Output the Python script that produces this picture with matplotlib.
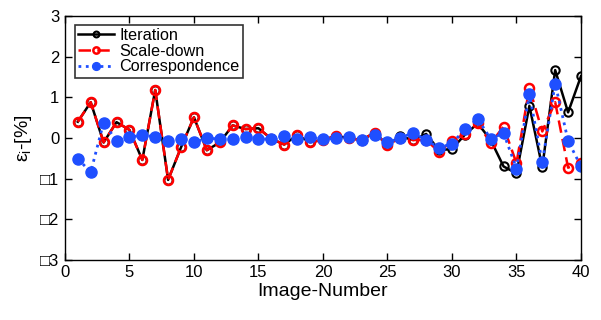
import numpy as np
import matplotlib
matplotlib.use('Agg')
import matplotlib.pyplot as plt

plt.rcParams['font.family'] = ['Liberation Sans', 'DejaVu Sans']
plt.rcParams['mathtext.fontset'] = 'custom'
plt.rcParams['mathtext.rm'] = 'Liberation Sans'
plt.rcParams['mathtext.it'] = 'Liberation Sans'

image_no = np.arange(1, 41)

iteration = [0.40, 0.88, -0.11, 0.39, 0.20, -0.54, 1.18, -1.03, -0.23, 0.51,
             -0.30, -0.11, 0.31, 0.22, 0.24, -0.02, -0.16, 0.07, -0.10, -0.05,
             0.05, 0.00, -0.05, 0.13, -0.17, 0.04, -0.05, 0.10, -0.30, -0.27,
             0.08, 0.36, -0.05, -0.70, -0.87, 0.79, -0.72, 1.67, 0.63, 1.52]
scale_down = [0.40, 0.88, -0.11, 0.39, 0.20, -0.54, 1.18, -1.03, -0.23, 0.51,
              -0.30, -0.11, 0.31, 0.22, 0.24, -0.02, -0.16, 0.07, -0.10, -0.05,
              0.05, -0.01, -0.05, 0.13, -0.17, 0.00, -0.05, -0.05, -0.34, -0.08,
              0.11, 0.36, -0.13, 0.28, -0.62, 1.24, 0.16, 0.88, -0.73, -0.61]
correspondence = [-0.51, -0.84, 0.38, -0.07, 0.02, 0.07, 0.03, -0.07, -0.02, -0.11,
                  -0.01, -0.02, -0.03, 0.02, -0.02, -0.03, 0.05, -0.03, 0.02, -0.03,
                  -0.01, 0.02, -0.05, 0.07, -0.11, 0.00, 0.13, -0.05, -0.24, -0.14,
                  0.22, 0.47, -0.02, 0.12, -0.75, 1.07, -0.60, 1.34, -0.07, -0.70]

names = ['Iteration', 'Scale-down', 'Correspondence']
yticks = [-3, -2, -1, 0, 1, 2, 3]
ytick_labels = ['\u25a13', '\u25a12', '\u25a11', '0', '1', '2', '3']

fig = plt.figure(figsize=(6.01, 3.2), dpi=100)
ax = fig.add_axes([0.108, 0.1875, 0.8587, 0.7625])

blue = '#1f4fff'
ax.plot(image_no, iteration, '-', color='black', lw=1.8, marker='o',
        markersize=6, markerfacecolor='none', markeredgecolor='black', mew=1.5,
        label=names[0])
ax.plot(image_no, scale_down, '--', color='red', lw=1.8, marker='o',
        markersize=6.5, markerfacecolor='none', markeredgecolor='red', mew=1.8,
        dashes=(5, 2.5), label=names[1])
ax.plot(image_no, correspondence, ':', color=blue, lw=2, marker='o',
        markersize=8, markerfacecolor=blue, markeredgecolor=blue,
        label=names[2])

ax.set_xlim(0, 40)
ax.set_ylim(-3, 3)
ax.set_xticks(range(0, 41, 5))
ax.set_yticks(yticks)
ax.set_yticklabels(ytick_labels)
ax.tick_params(direction='in', top=True, right=True, length=5, labelsize=12,
               width=1)
ax.tick_params(axis='y', pad=4)
for s in ax.spines.values():
    s.set_linewidth(1)

ax.set_xlabel('Image-Number', fontsize=14, labelpad=2)
ax.set_ylabel('ε$_\\mathrm{i}$-[%]', fontsize=14, labelpad=4)

leg = ax.legend(loc='upper left', fontsize=11.7, frameon=True, fancybox=False,
                edgecolor='black', handlelength=2.2, handletextpad=0.3,
                borderpad=0.2, labelspacing=0.05, markerscale=0.7,
                bbox_to_anchor=(0.02, 0.965), borderaxespad=0)
leg.get_frame().set_linewidth(1.2)

plt.savefig('out.png', dpi=100)
